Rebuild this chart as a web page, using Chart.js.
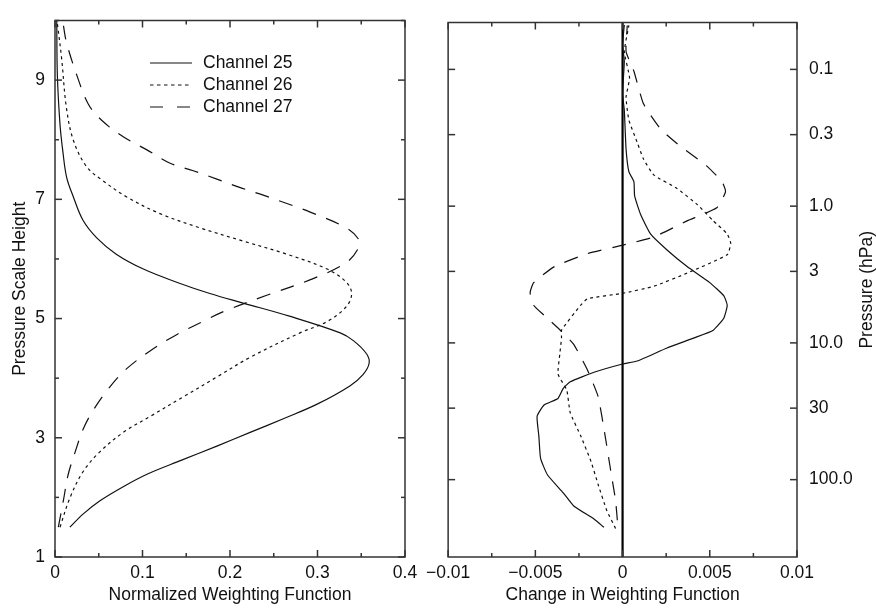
<!DOCTYPE html>
<html>
<head>
<meta charset="utf-8">
<script src="https://cdn.jsdelivr.net/npm/chart.js@4.4.1/dist/chart.umd.min.js"></script>
<style>
  body { margin: 0; background: #fff; }
  #leftChart { position: absolute; left: 0; top: 0; }
  #rightChart { position: absolute; left: 420px; top: 0; }
</style>
</head>
<body>
<canvas id="leftChart" width="430" height="610"></canvas>
<canvas id="rightChart" width="456" height="610"></canvas>
<script>
// left panel: normalized weighting functions vs pressure scale height
const ch25Height = [1.5, 1.72, 1.94, 2.18, 2.4, 2.62, 2.86, 3.09, 3.32, 3.56, 3.87, 4.06, 4.25, 4.41, 4.63, 4.76, 5.04, 5.26, 5.42, 5.61, 5.83, 6.08, 6.35, 6.65, 7.04, 7.37, 7.8, 8.26, 9.08, 10.0];
const ch25Weight = [0.017, 0.032, 0.051, 0.078, 0.107, 0.144, 0.185, 0.223, 0.261, 0.299, 0.337, 0.352, 0.359, 0.356, 0.341, 0.326, 0.268, 0.215, 0.177, 0.139, 0.101, 0.07, 0.048, 0.032, 0.021, 0.0133, 0.009, 0.0057, 0.0027, 0.002];
const ch26Height = [1.5, 1.99, 2.43, 2.76, 3.09, 3.36, 3.69, 4.02, 4.35, 4.76, 4.95, 5.2, 5.42, 5.61, 5.83, 6.08, 6.3, 6.52, 6.76, 7.04, 7.31, 7.55, 7.99, 8.54, 9.36, 9.95];
const ch26Weight = [0.0057, 0.017, 0.032, 0.051, 0.078, 0.109, 0.147, 0.185, 0.223, 0.28, 0.311, 0.333, 0.339, 0.333, 0.311, 0.265, 0.215, 0.166, 0.12, 0.082, 0.055, 0.036, 0.021, 0.013, 0.0076, 0.0027];
const ch27Height = [1.5, 1.94, 2.38, 2.76, 3.14, 3.47, 3.86, 4.16, 4.46, 4.73, 4.95, 5.12, 5.39, 5.67, 5.94, 6.19, 6.33, 6.52, 6.79, 6.93, 7.07, 7.2, 7.34, 7.48, 7.61, 7.83, 8.05, 8.33, 8.6, 9.08, 9.64, 10.0];
const ch27Weight = [0.0038, 0.0095, 0.015, 0.023, 0.032, 0.044, 0.063, 0.082, 0.109, 0.139, 0.169, 0.193, 0.242, 0.295, 0.333, 0.347, 0.347, 0.333, 0.291, 0.265, 0.238, 0.211, 0.185, 0.158, 0.131, 0.105, 0.078, 0.053, 0.038, 0.025, 0.013, 0.0088];

// right panel: change in weighting function
const d25Height = [1.5, 1.64, 1.86, 2.08, 2.38, 2.66, 3.04, 3.37, 3.56, 3.67, 3.84, 3.95, 4.11, 4.25, 4.3, 4.52, 4.69, 4.82, 5.02, 5.24, 5.4, 5.62, 5.89, 6.17, 6.44, 6.77, 7.08, 7.32, 7.49, 7.87, 8.52, 8.8, 9.35, 9.62, 9.96];
const d25Change = [-0.00107, -0.00164, -0.0028, -0.0034, -0.0043, -0.0047, -0.0048, -0.0049, -0.0045, -0.0037, -0.0034, -0.003, -0.00164, 0, 0.00084, 0.00255, 0.0041, 0.0052, 0.0058, 0.006, 0.0058, 0.005, 0.0037, 0.00255, 0.0016, 0.00103, 0.00069, 0.00065, 0.00036, 0.0002, 0.0001, 0, 0.0001, 0, 0.0001];
const d26Height = [1.48, 1.78, 2.22, 2.6, 3.04, 3.43, 3.81, 4.08, 4.41, 4.69, 4.82, 5.24, 5.35, 5.44, 5.56, 5.78, 6.09, 6.28, 6.44, 6.66, 6.93, 7.21, 7.43, 7.7, 7.98, 8.36, 8.74, 9.07, 9.51, 9.95];
const d26Change = [-0.0004, -0.0009, -0.0014, -0.0018, -0.0024, -0.003, -0.0032, -0.0037, -0.0036, -0.0035, -0.0035, -0.0024, -0.002, 0, 0.0018, 0.0037, 0.006, 0.0062, 0.006, 0.0052, 0.0043, 0.0031, 0.0018, 0.0012, 0.00084, 0.00036, 0.0002, 0.0004, 0.0001, 0.00036];
const d27Height = [1.62, 1.95, 2.49, 3.04, 3.7, 4.14, 4.58, 4.8, 5.07, 5.24, 5.45, 5.62, 5.89, 6.11, 6.25, 6.39, 6.66, 6.88, 7.15, 7.32, 7.59, 7.92, 8.2, 8.63, 9.18, 9.51, 9.95];
const d27Change = [-0.0003, -0.0004, -0.0007, -0.001, -0.0014, -0.002, -0.0028, -0.0035, -0.0045, -0.0051, -0.0053, -0.0051, -0.0039, -0.002, 0, 0.0018, 0.0037, 0.0054, 0.0059, 0.0057, 0.0048, 0.0033, 0.0022, 0.0012, 0.00065, 0.0002, 0.00027];

const channelNames = ['Channel 25', 'Channel 26', 'Channel 27'];
const pressureLevels = [0.1, 0.3, 1, 3, 10, 30, 100];
const pressureLabels = ['0.1', '0.3', '1.0', '3', '10.0', '30', '100.0'];

const dashes = [[], [3, 3.5], [14, 11]];
const legendDashes = [[], [3.5, 3.5], [13, 14]];

const fontFamily = '"Liberation Sans", Arial, Helvetica, sans-serif';
Chart.defaults.font.family = fontFamily;
Chart.defaults.font.size = 17.5;
Chart.defaults.color = '#111';

function toPoints(xs, ys) {
  return xs.map((v, i) => ({ x: v, y: ys[i] }));
}

function makeSet(label, xs, ys, i, tension) {
  return {
    label: label,
    data: toPoints(xs, ys),
    showLine: true,
    borderColor: '#111',
    borderWidth: 1.2,
    borderDash: dashes[i],
    pointRadius: 0,
    tension: tension
  };
}

function strokeLine(ctx, x1, y1, x2, y2) {
  ctx.beginPath();
  ctx.moveTo(x1, y1);
  ctx.lineTo(x2, y2);
  ctx.stroke();
}

// box round the plot and inward tick marks on all four sides
const frameTicks = {
  id: 'frameTicks',
  afterDraw(chart) {
    const { ctx, chartArea: a } = chart;
    ctx.save();
    ctx.strokeStyle = '#333';
    ctx.lineWidth = 1.5;
    ctx.strokeRect(a.left, a.top, a.right - a.left, a.bottom - a.top);
    const xs = chart.scales.x;
    xs.ticks.forEach(t => {
      const px = xs.getPixelForValue(t.value);
      const len = t.label !== '' ? 7 : 4;
      strokeLine(ctx, px, a.bottom, px, a.bottom - len);
      strokeLine(ctx, px, a.top, px, a.top + len);
    });
    const ys = chart.scales.y;
    ys.ticks.forEach(t => {
      const py = ys.getPixelForValue(t.value);
      const len = t.label !== '' ? 7 : 4;
      strokeLine(ctx, a.left, py, a.left + len, py);
      strokeLine(ctx, a.right, py, a.right - len, py);
    });
    ctx.restore();
  }
};

const legendBox = {
  id: 'legendBox',
  afterDraw(chart) {
    const ctx = chart.ctx;
    ctx.save();
    chart.data.datasets.forEach((ds, i) => {
      const y = 63 + i * 22;
      ctx.strokeStyle = '#111';
      ctx.lineWidth = 1.2;
      ctx.setLineDash(legendDashes[i]);
      strokeLine(ctx, 150, y, 192, y);
      ctx.setLineDash([]);
      ctx.fillStyle = '#111';
      ctx.font = '17.5px ' + fontFamily;
      ctx.textBaseline = 'middle';
      ctx.fillText(ds.label, 203, y);
    });
    ctx.restore();
  }
};

const zeroLine = {
  id: 'zeroLine',
  beforeDatasetsDraw(chart) {
    const { ctx, chartArea: a } = chart;
    const px = chart.scales.x.getPixelForValue(0);
    ctx.save();
    ctx.strokeStyle = '#000';
    ctx.lineWidth = 2.2;
    strokeLine(ctx, px, a.top, px, a.bottom);
    ctx.restore();
  }
};

// the right-hand title reads upwards, which the library does not do for a right axis
const rightTitle = {
  id: 'rightTitle',
  afterDraw(chart) {
    const ctx = chart.ctx;
    const a = chart.chartArea;
    ctx.save();
    ctx.translate(447, (a.top + a.bottom) / 2);
    ctx.rotate(-Math.PI / 2);
    ctx.fillStyle = '#111';
    ctx.font = '17.5px ' + fontFamily;
    ctx.textAlign = 'center';
    ctx.textBaseline = 'middle';
    ctx.fillText('Pressure (hPa)', 0, 0);
    ctx.restore();
  }
};

const noGrid = { display: false, drawTicks: false };

new Chart(document.getElementById('leftChart'), {
  type: 'scatter',
  data: {
    datasets: [
      makeSet(channelNames[0], ch25Weight, ch25Height, 0, 0.35),
      makeSet(channelNames[1], ch26Weight, ch26Height, 1, 0.35),
      makeSet(channelNames[2], ch27Weight, ch27Height, 2, 0.35)
    ]
  },
  options: {
    responsive: false,
    animation: false,
    layout: { padding: { left: 0, top: 10, right: 25, bottom: 0 } },
    plugins: { legend: { display: false }, tooltip: { enabled: false } },
    scales: {
      x: {
        type: 'linear', min: 0, max: 0.4,
        grid: noGrid, border: { display: false },
        ticks: {
          stepSize: 0.05, autoSkip: false, maxRotation: 0, padding: 6,
          callback: v => {
            const r = Math.round(v * 100) / 100;
            return Math.abs(r * 10 - Math.round(r * 10)) < 1e-6 ? String(Math.round(r * 10) / 10) : '';
          }
        },
        title: { display: true, text: 'Normalized Weighting Function', padding: { top: 0, bottom: 4 } },
        afterFit: s => { s.height = 53; }
      },
      y: {
        type: 'linear', min: 1, max: 10,
        grid: noGrid, border: { display: false },
        ticks: {
          stepSize: 1, autoSkip: false, padding: 10,
          callback: v => (Math.round(v) % 2 === 1 ? String(Math.round(v)) : '')
        },
        title: { display: true, text: 'Pressure Scale Height', padding: { top: 10, bottom: 0 } },
        afterFit: s => { s.width = 55; }
      }
    }
  },
  plugins: [frameTicks, legendBox]
});

new Chart(document.getElementById('rightChart'), {
  type: 'scatter',
  data: {
    datasets: [
      makeSet(channelNames[0], d25Change, d25Height, 0, 0.15),
      makeSet(channelNames[1], d26Change, d26Height, 1, 0.15),
      makeSet(channelNames[2], d27Change, d27Height, 2, 0.15)
    ]
  },
  options: {
    responsive: false,
    animation: false,
    layout: { padding: { left: 27, top: 10, right: 0, bottom: 0 } },
    plugins: { legend: { display: false }, tooltip: { enabled: false } },
    scales: {
      x: {
        type: 'linear', min: -0.01, max: 0.01,
        grid: noGrid, border: { display: false },
        ticks: {
          stepSize: 0.0025, autoSkip: false, maxRotation: 0, padding: 6,
          callback: v => {
            const r = Math.round(v * 10000) / 10000;
            if (Math.abs(r / 0.005 - Math.round(r / 0.005)) > 1e-6) return '';
            if (r === 0) return '0';
            return (r < 0 ? '\u2212' : '') + String(Math.abs(r));
          }
        },
        title: { display: true, text: 'Change in Weighting Function', padding: { top: 0, bottom: 4 } },
        afterFit: s => { s.height = 53; }
      },
      y: {
        type: 'linear', min: 1, max: 10, position: 'right',
        grid: noGrid, border: { display: false },
        afterBuildTicks: s => { s.ticks = pressureLevels.map(p => ({ value: Math.log(1000 / p) })); },
        ticks: {
          autoSkip: false, padding: 12,
          callback: (v, i) => pressureLabels[i]
        },
        afterFit: s => { s.width = 79; }
      }
    }
  },
  plugins: [frameTicks, zeroLine, rightTitle]
});
</script>
</body>
</html>
